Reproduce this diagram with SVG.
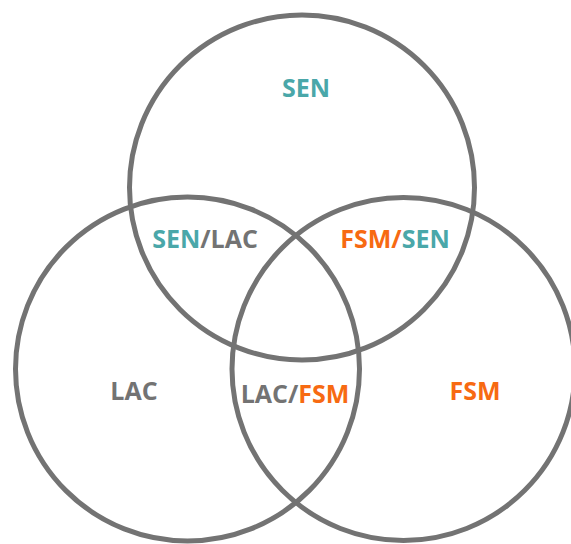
<svg xmlns="http://www.w3.org/2000/svg" width="571" height="544" viewBox="0 0 571 544">
<style>
.c{fill:none;stroke:#737373;stroke-width:5}
text{font-family:"Open Sans","Liberation Sans",sans-serif;font-weight:bold;font-size:25px;text-anchor:middle}
.t{fill:#4aa7a9}.o{fill:#f76a12}.g{fill:#737373}
</style>
<rect width="571" height="544" fill="#fff"/>
<g id="sen"><circle class="c" cx="302" cy="187.5" r="172.5"/><text x="306" y="97" class="t">SEN</text></g>
<g id="lac"><circle class="c" cx="187.5" cy="369" r="172"/><text x="134" y="400" class="g">LAC</text></g>
<g id="fsm"><circle class="c" cx="403.5" cy="369" r="171.5"/><text x="475" y="400" class="o">FSM</text></g>
<g id="overlaps">
<text x="205" y="248"><tspan class="t">SEN</tspan><tspan class="g">/LAC</tspan></text>
<text x="395" y="248"><tspan class="o">FSM/</tspan><tspan class="t">SEN</tspan></text>
<text x="295" y="403"><tspan class="g">LAC/</tspan><tspan class="o">FSM</tspan></text>
</g>
<g id="connectors"/>
</svg>
